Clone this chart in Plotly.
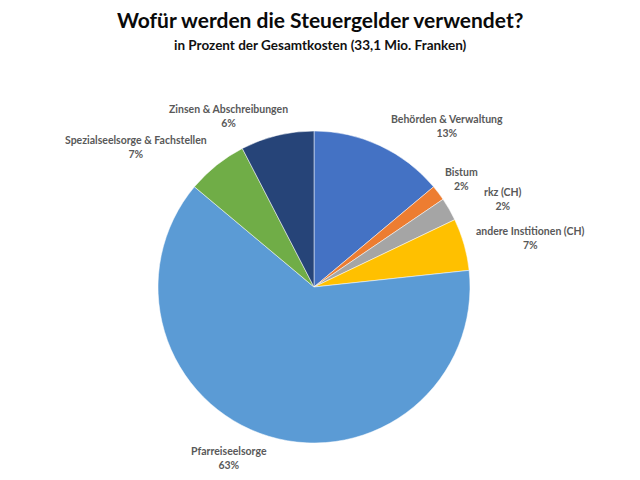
import plotly.graph_objects as go

categories = ["Behörden & Verwaltung", "Bistum", "rkz (CH)", "andere Institionen (CH)",
              "Pfarreiseelsorge", "Spezialseelsorge & Fachstellen", "Zinsen & Abschreibungen"]
values = [13.9, 1.6, 2.4, 5.4, 62.8, 6.3, 7.6]
shown_pct = [13, 2, 2, 7, 63, 7, 6]
colors = ["#4472C4", "#ED7D31", "#A5A5A5", "#FFC000", "#5B9BD5", "#70AD47", "#264478"]

# label anchor positions (pixels in 640x480 canvas)
label_pos = [(447, 126), (461, 179), (503, 199), (530, 238), (229, 458), (136, 147), (228, 116)]

W, H = 640, 480
cx, cy, r = 314, 287, 156

fig = go.Figure(go.Pie(
    labels=categories,
    values=values,
    sort=False,
    direction="clockwise",
    rotation=0,
    marker=dict(colors=colors, line=dict(color="white", width=0.5)),
    textinfo="none",
    hoverinfo="label+percent",
    domain=dict(x=[(cx - r) / W, (cx + r) / W], y=[(H - cy - r) / H, (H - cy + r) / H]),
    showlegend=False,
))

annotations = []
for cat, pct, (x, y) in zip(categories, shown_pct, label_pos):
    annotations.append(dict(
        x=x / W, y=1 - y / H, xref="paper", yref="paper",
        text=f"<b>{cat}<br>{pct}%</b>", showarrow=False,
        font=dict(family="Lato", size=10.5, color="#595959"),
        align="center", xanchor="center", yanchor="middle",
    ))

annotations.append(dict(
    x=0.5, y=1 - 20 / H, xref="paper", yref="paper",
    text="<b>Wofür werden die Steuergelder verwendet?</b>", showarrow=False,
    font=dict(family="Lato", size=21, color="#0a0a0a"), xanchor="center", yanchor="middle",
))
annotations.append(dict(
    x=0.5, y=1 - 45 / H, xref="paper", yref="paper",
    text="<b>in Prozent der Gesamtkosten (33,1 Mio. Franken)</b>", showarrow=False,
    font=dict(family="Lato", size=13.5, color="#111111"), xanchor="center", yanchor="middle",
))

fig.update_layout(
    width=W, height=H,
    margin=dict(l=0, r=0, t=0, b=0),
    paper_bgcolor="white", plot_bgcolor="white",
    annotations=annotations,
)

fig.write_html("out.html", config={"displayModeBar": False},
               post_script="document.body.style.margin='0';")
